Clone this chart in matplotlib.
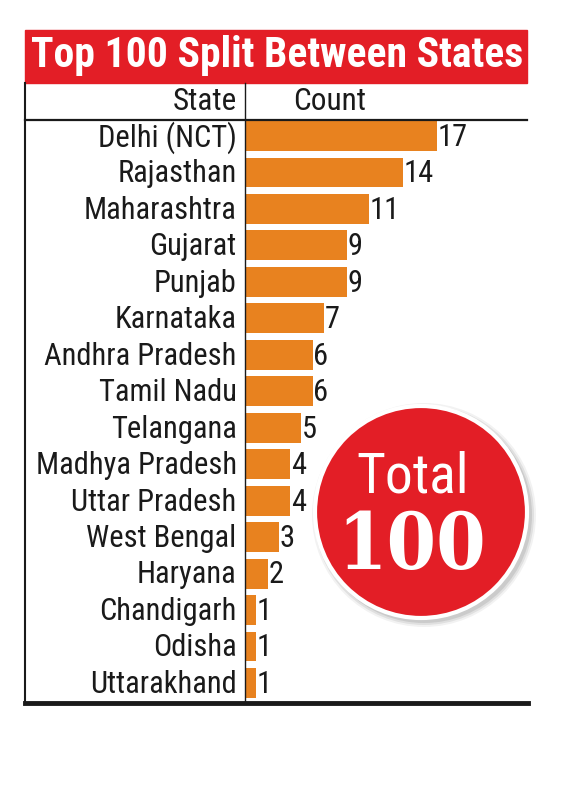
import matplotlib.pyplot as plt
from matplotlib.patches import Rectangle, Circle
from matplotlib.lines import Line2D

# Datos
states = ["Delhi (NCT)", "Rajasthan", "Maharashtra", "Gujarat", "Punjab",
          "Karnataka", "Andhra Pradesh", "Tamil Nadu", "Telangana",
          "Madhya Pradesh", "Uttar Pradesh", "West Bengal", "Haryana",
          "Chandigarh", "Odisha", "Uttarakhand"]
counts = [17, 14, 11, 9, 9, 7, 6, 6, 5, 4, 4, 3, 2, 1, 1, 1]
title = "Top 100 Split Between States"
total_label = "Total"
total_value = "100"

cond = "Roboto Condensed"
orange = "#e8821f"
red = "#e31e26"
ink = "#1a1a1a"
W, H = 572, 800


def fx(px):
    return px / W


def fy(py):
    return 1 - py / H


fig = plt.figure(figsize=(5.72, 8), dpi=100)

# Eje de barras
ax = fig.add_axes([fx(245), fy(703), fx(527) - fx(245), fy(120) - fy(703)])
y = list(range(len(states)))
ax.barh(y, counts, height=0.82, color=orange)
ax.set_xlim(0, 25)
ax.set_ylim(15.55, -0.44)
ax.axis("off")
for yi, c, s in zip(y, counts, states):
    ax.annotate(str(c), (c, yi), xytext=(0.5, -1), textcoords="offset points",
                va="center", ha="left", fontsize=22, family=cond, color=ink)
    ax.annotate(s, (0, yi), xytext=(-6, -1), textcoords="offset points",
                va="center", ha="right", fontsize=22, family=cond, color=ink,
                annotation_clip=False)

# Titulo
fig.patches.append(Rectangle((fx(25), fy(83)), fx(527) - fx(25), fy(30) - fy(83),
                             transform=fig.transFigure, color=red, zorder=0))
fig.text(fx(277), fy(56), title, ha="center", va="center", color="white",
         fontsize=30, fontweight="bold", family=cond)

# Cabecera
fig.text(fx(237), fy(101), "State", ha="right", va="center", fontsize=22.5,
         family=cond, color=ink)
fig.text(fx(330), fy(101), "Count", ha="center", va="center", fontsize=22.5,
         family=cond, color=ink)

# Lineas
lines = [
    Line2D([fx(25), fx(527)], [fy(120), fy(120)], lw=1.6, color=ink),
    Line2D([fx(25), fx(528)], [fy(703), fy(703)], lw=3.5, color=ink),
    Line2D([fx(25), fx(25)], [fy(83), fy(704)], lw=1.5, color=ink),
    Line2D([fx(245), fx(245)], [fy(83), fy(703)], lw=1.0, color=ink),
]
for ln in lines:
    ln.set_transform(fig.transFigure)
    fig.lines.append(ln)

# Circulo total
cax = fig.add_axes([0, 0, 1, 1], facecolor="none")
cax.set_xlim(0, W)
cax.set_ylim(H, 0)
cax.set_aspect("equal")
cax.axis("off")
for r, a in [(112, 0.05), (110, 0.07), (108, 0.09)]:
    cax.add_patch(Circle((424, 515), r, color="black", alpha=a, lw=0))
cax.add_patch(Circle((421, 512), 106, facecolor=red, edgecolor="white", lw=3))
cax.text(413, 477, total_label, ha="center", va="center", color="white",
         fontsize=40, family=cond)
cax.text(412, 547, total_value, ha="center", va="center", color="white",
         fontsize=57, fontweight="bold", family="DejaVu Serif",
         fontstretch="condensed")

plt.savefig("out.png", dpi=100)
